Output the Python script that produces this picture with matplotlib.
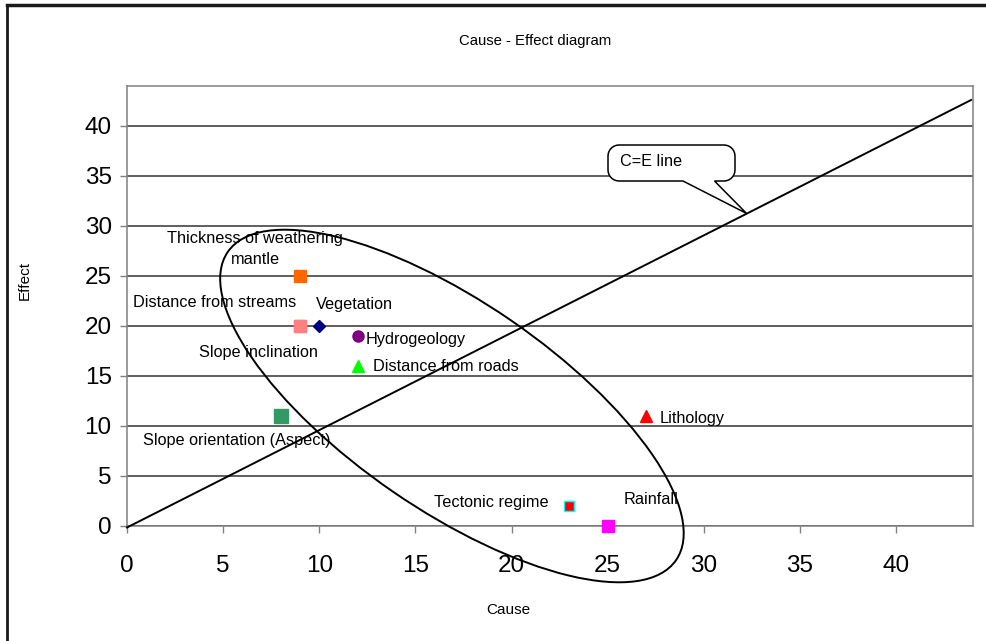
import matplotlib
matplotlib.use('Agg')
import matplotlib.pyplot as plt
from matplotlib.patches import Ellipse, PathPatch
from matplotlib.path import Path
from matplotlib.transforms import IdentityTransform
from matplotlib.lines import Line2D
import numpy as np

plt.rcParams['font.family'] = ['Liberation Sans', 'DejaVu Sans']

# ---- data ----
factors = ['Thickness of weathering\nmantle', 'Distance from streams', 'Vegetation',
           'Slope inclination', 'Hydrogeology', 'Distance from roads',
           'Slope orientation (Aspect)', 'Lithology', 'Tectonic regime', 'Rainfall']
cause = [9, 9, 10, 9, 12, 12, 8, 27, 23, 25]
effect = [25, 20, 20, 20, 19, 16, 11, 11, 2, 0]
ce_line_x = [0, 43.9]
ce_line_y = [-0.15, 42.6]
x_ticks = [0, 5, 10, 15, 20, 25, 30, 35, 40]
y_ticks = [0, 5, 10, 15, 20, 25, 30, 35, 40]

# ---- styles ----
markers = ['s', 's', 'D', 's', 'o', '^', 's', '^', 's', 's']
mcolors = ['#FF6600', '#FF8080', '#000080', '#FF8080', '#800080', '#00FF00',
           '#339966', '#FF0000', '#FF0000', '#FF00FF']
medges = ['#FF6600', '#FF8080', '#000080', '#FF8080', '#800080', '#00FF00',
          '#339966', '#FF0000', '#00FFFF', '#FF00FF']
msizes = [8, 8, 6, 8, 8, 9, 10.5, 9, 7.5, 8.5]
# label anchor (x, y in data units), horizontal alignment, vertical alignment
label_pos = [(6.66, 27.7, 'center', 'center'),
             (4.58, 21.9, 'center', 'baseline'),
             (9.83, 21.7, 'left', 'baseline'),
             (6.83, 16.9, 'center', 'baseline'),
             (12.41, 18.2, 'left', 'baseline'),
             (12.81, 15.5, 'left', 'baseline'),
             (5.73, 8.1, 'center', 'baseline'),
             (27.69, 10.3, 'left', 'baseline'),
             (18.97, 1.9, 'center', 'baseline'),
             (25.81, 2.2, 'left', 'baseline')]

W, H = 987, 641
fig = plt.figure(figsize=(W / 100, H / 100), dpi=100)
ax = fig.add_axes([127 / W, (H - 526) / H, 846 / W, 440 / H])
ax.set_xlim(0, 44)
ax.set_ylim(0, 44)
ax.set_xticks(x_ticks)
ax.set_yticks(y_ticks)
ax.yaxis.grid(True, color='#333333', lw=1.1)
ax.set_axisbelow(True)
for s in ax.spines.values():
    s.set_color('#808080')
    s.set_linewidth(1.1)
ax.tick_params(axis='both', direction='out', length=5, width=1, color='#808080',
               labelsize=17.5, labelcolor='black')
ax.tick_params(axis='y', pad=6)
ax.tick_params(axis='x', pad=16)

# C=E line
ax.plot(ce_line_x, ce_line_y, color='black', lw=1.4, clip_on=False, zorder=3)

# markers
for i in range(len(cause)):
    ax.plot(cause[i], effect[i], linestyle='none', marker=markers[i],
            markersize=msizes[i], markerfacecolor=mcolors[i],
            markeredgecolor=medges[i], markeredgewidth=1, clip_on=False, zorder=4)

# labels
for i, (lx, ly, ha, va) in enumerate(label_pos):
    ax.text(lx, ly, factors[i], ha=ha, va=va, fontsize=11.7, color='black', zorder=6,
            linespacing=1.45)

fig.canvas.draw()

# ellipse around the factor group (drawn in pixel units about a data centre)
ell_center = ax.transData.transform((16.9, 12.0))
ell = Ellipse(ell_center, 2 * 272, 2 * 104, angle=-34.5, transform=IdentityTransform(),
              fill=False, edgecolor='black', lw=1.4, zorder=5, clip_on=False)
fig.add_artist(ell)

# callout "C=E line"
def px(x, y):
    return (x, H - y)

L, R, T, B, r = 608, 735, 145, 181, 11
verts = []
def arc(cx, cy, a0, a1, n=8):
    for t in np.linspace(np.radians(a0), np.radians(a1), n):
        verts.append(px(cx + r * np.cos(t), cy - r * np.sin(t)))

verts.append(px(683, B))
verts.append(px(L + r, B))
arc(L + r, B - r, 270, 180)
verts.append(px(L, T + r))
arc(L + r, T + r, 180, 90)
verts.append(px(R - r, T))
arc(R - r, T + r, 90, 0)
verts.append(px(R, B - r))
arc(R - r, B - r, 0, -90)
verts.append(px(714.5, B))
verts.append(px(746.5, 213.4))
verts.append(px(683, B))
codes = [Path.MOVETO] + [Path.LINETO] * (len(verts) - 2) + [Path.CLOSEPOLY]
callout = PathPatch(Path(verts, codes), transform=IdentityTransform(),
                    facecolor='white', edgecolor='black', lw=1.1, zorder=7)
fig.add_artist(callout)
fig.text(620 / W, 1 - 162 / H, 'C=E line', ha='left', va='center', fontsize=11.7,
         zorder=8)

# titles
fig.text(535 / W, 1 - 41 / H, 'Cause - Effect diagram', ha='center', va='center',
         fontsize=10.7)
fig.text(508 / W, 1 - 610 / H, 'Cause', ha='center', va='center', fontsize=11)
fig.text(25 / W, 1 - 280 / H, 'Effect', ha='center', va='center', rotation=90,
         fontsize=11)

# outer frame (top and left edges)
fig.add_artist(Line2D([7 / W, 1], [1 - 5 / H] * 2, transform=fig.transFigure,
                      color='#1a1a1a', lw=2.5))
fig.add_artist(Line2D([7 / W] * 2, [0, 1 - 5 / H], transform=fig.transFigure,
                      color='#1a1a1a', lw=2))

fig.savefig('out.png', dpi=100)
